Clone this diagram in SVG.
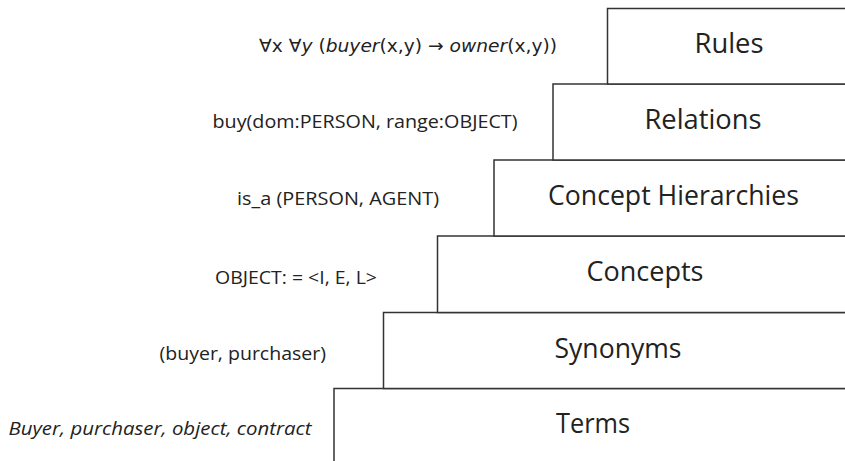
<svg xmlns="http://www.w3.org/2000/svg" width="845" height="461" viewBox="0 0 845 461">
  <style>
    .step { fill: #ffffff; stroke: #333333; stroke-width: 1.5; }
    .label { font-family: "Open Sans", "Noto Sans", sans-serif; font-size: 28px; fill: #222222; text-anchor: middle; }
    .note { font-family: "Open Sans", "Noto Sans", sans-serif; font-size: 18px; fill: #222222; }
    .logic { font-family: "DejaVu Sans", "Noto Sans", sans-serif; font-size: 18px; fill: #222222; }
    .it { font-style: italic; }
  </style>
  <rect width="845" height="461" fill="#ffffff"/>

  <!-- staircase of layers, bottom (widest) to top -->
  <g id="terms">
    <rect class="step" x="334" y="388.5" width="530" height="90"/>
    <text class="label" x="593" y="433" textLength="74" lengthAdjust="spacingAndGlyphs">Terms</text>
    <text class="note it" x="8.5" y="435" textLength="303" lengthAdjust="spacingAndGlyphs">Buyer, purchaser, object, contract</text>
  </g>
  <g id="synonyms">
    <rect class="step" x="383.5" y="312.5" width="480" height="76"/>
    <text class="label" x="618" y="358" textLength="127" lengthAdjust="spacingAndGlyphs">Synonyms</text>
    <text class="note" x="159.5" y="360" textLength="166.5" lengthAdjust="spacingAndGlyphs">(buyer, purchaser)</text>
  </g>
  <g id="concepts">
    <rect class="step" x="437.5" y="236" width="430" height="76.5"/>
    <text class="label" x="645" y="281" textLength="117" lengthAdjust="spacingAndGlyphs">Concepts</text>
    <text class="note" x="215" y="284" textLength="162" lengthAdjust="spacingAndGlyphs">OBJECT: = &lt;I, E, L&gt;</text>
  </g>
  <g id="concept-hierarchies">
    <rect class="step" x="494" y="160" width="370" height="76"/>
    <text class="label" x="673.5" y="205" textLength="251" lengthAdjust="spacingAndGlyphs">Concept Hierarchies</text>
    <text class="note" x="237" y="205" textLength="202" lengthAdjust="spacingAndGlyphs">is_a (PERSON, AGENT)</text>
  </g>
  <g id="relations">
    <rect class="step" x="553" y="84" width="310" height="76"/>
    <text class="label" x="703" y="129" textLength="117" lengthAdjust="spacingAndGlyphs">Relations</text>
    <text class="note" x="212.5" y="128" textLength="305" lengthAdjust="spacingAndGlyphs">buy(dom:PERSON, range:OBJECT)</text>
  </g>
  <g id="rules">
    <rect class="step" x="607.5" y="8.5" width="260" height="75.5"/>
    <text class="label" x="729" y="53" textLength="69" lengthAdjust="spacingAndGlyphs">Rules</text>
    <text class="logic" x="259" y="52" textLength="298" lengthAdjust="spacingAndGlyphs">∀x ∀<tspan class="it">y</tspan> (<tspan class="it">buyer</tspan>(x,y) → <tspan class="it">owner</tspan>(x,y))</text>
  </g>
</svg>
